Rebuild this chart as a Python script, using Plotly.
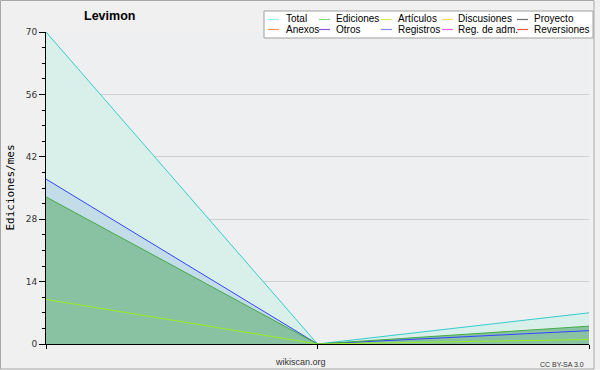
import plotly.graph_objects as go

title = "Levimon"
x_pos = [0, 1, 2]
total = [70, 0, 7]
registros = [37, 0, 3]
ediciones = [33, 0, 4]
articulos = [10, 0, 1]

y_ticks = [0, 14, 28, 42, 56, 70]

legend_names = ["Total", "Ediciones", "Artículos", "Discusiones", "Proyecto",
                "Anexos", "Otros", "Registros", "Reg. de adm.", "Reversiones"]
legend_colors = ["#99eeee", "#88d888", "#d0f060", "#ffd860", "#707070",
                 "#ff9060", "#9050e8", "#8888ff", "#e860e8", "#ff5050"]

W, H = 600, 370
L, R, T, B = 46, 11, 32, 26
PW, PH = W - L - R, H - T - B


def px(x):
    return (x - L) / PW


def py(y):
    return (H - B - y) / PH


fig = go.Figure()
series = [
    (total, "#33cccc", "#d9f0ea"),
    (registros, "#3344ff", "#c2dde8"),
    (ediciones, "#44aa44", "#88c2a2"),
    (articulos, "#99ee22", None),
]
for ys, lc, fc in series:
    if fc:
        fig.add_trace(go.Scatter(
            x=x_pos, y=ys, mode="none", fill="tozeroy",
            fillcolor=fc, showlegend=False, hoverinfo="skip"))
for ys, lc, fc in series:
    fig.add_trace(go.Scatter(
        x=x_pos, y=ys, mode="lines",
        line=dict(color=lc, width=1),
        showlegend=False, hoverinfo="skip"))

shapes = []
annotations = []
shapes.append(dict(type="rect", xref="paper", yref="paper",
                   x0=px(0.5), x1=px(594), y0=py(369), y1=py(0.5),
                   line=dict(color="#a8a8a8", width=1), layer="below"))
shapes.append(dict(type="rect", xref="paper", yref="paper",
                   x0=px(264), x1=px(593), y0=py(38), y1=py(11),
                   line=dict(color="#a0a0a0", width=1), fillcolor="#ffffff", layer="above"))
line_x = [268, 319, 381, 442, 517]
text_x = [285, 335, 397, 457, 533]
row_y = [19.5, 29.5]
for i, (name, c) in enumerate(zip(legend_names, legend_colors)):
    r, ci = divmod(i, 5)
    y = row_y[r]
    shapes.append(dict(type="line", xref="paper", yref="paper",
                       x0=px(line_x[ci]), x1=px(line_x[ci] + 11),
                       y0=py(y), y1=py(y), layer="above",
                       line=dict(color=c, width=1.2)))
    annotations.append(dict(text=name, xref="paper", yref="paper",
                            x=px(text_x[ci] - 1), y=py(y - 0.5),
                            xanchor="left", yanchor="middle", showarrow=False,
                            font=dict(family="Liberation Sans", size=10, color="#000")))

annotations.append(dict(text="<b>" + title + "</b>", xref="paper", yref="paper",
                        x=px(109.5), y=py(16), xanchor="center",
                        yanchor="middle", showarrow=False,
                        font=dict(family="Liberation Sans", size=12.5, color="#000")))
annotations.append(dict(text="wikiscan.org", xref="paper", yref="paper",
                        x=px(300), y=py(361.5), xanchor="center",
                        yanchor="middle", showarrow=False,
                        font=dict(family="Liberation Sans", size=9, color="#333")))
annotations.append(dict(text="CC BY-SA 3.0", xref="paper", yref="paper",
                        x=px(586), y=py(364), xanchor="right",
                        yanchor="middle", showarrow=False,
                        font=dict(family="Liberation Sans", size=7, color="#333")))
annotations.append(dict(text="Ediciones/mes", xref="paper", yref="paper",
                        x=px(9.5), y=py(188), xanchor="center", yanchor="middle",
                        textangle=-90, showarrow=False,
                        font=dict(family="DejaVu Sans Mono", size=11, color="#000")))

minor_vals = [v + k * 3.5 for v in y_ticks[:-1] for k in (1, 2, 3)]

fig.update_layout(
    width=W, height=H,
    margin=dict(l=L, r=R, t=T, b=B),
    paper_bgcolor="#f0f0f0",
    plot_bgcolor="#eeeff0",
    shapes=shapes,
    annotations=annotations,
    showlegend=False,
    xaxis=dict(range=[0, 2], tickvals=x_pos, ticktext=["", "", ""],
               ticks="outside", ticklen=4, tickcolor="#000",
               showline=True, linecolor="#000", linewidth=1,
               showgrid=False, zeroline=False, fixedrange=True, automargin=False),
    yaxis=dict(range=[0, 70], tickvals=y_ticks, ticks="outside", ticklen=6,
               tickcolor="#000", showline=True, linecolor="#000", linewidth=1,
               showgrid=True, gridcolor="#d0d0d0", gridwidth=1, zeroline=False,
               tickfont=dict(family="DejaVu Sans", size=9, color="#333"),
               minor=dict(tickvals=minor_vals, ticks="outside", ticklen=3,
                          tickcolor="#000", showgrid=False),
               fixedrange=True, automargin=False),
)
fig.write_html("out.html")
